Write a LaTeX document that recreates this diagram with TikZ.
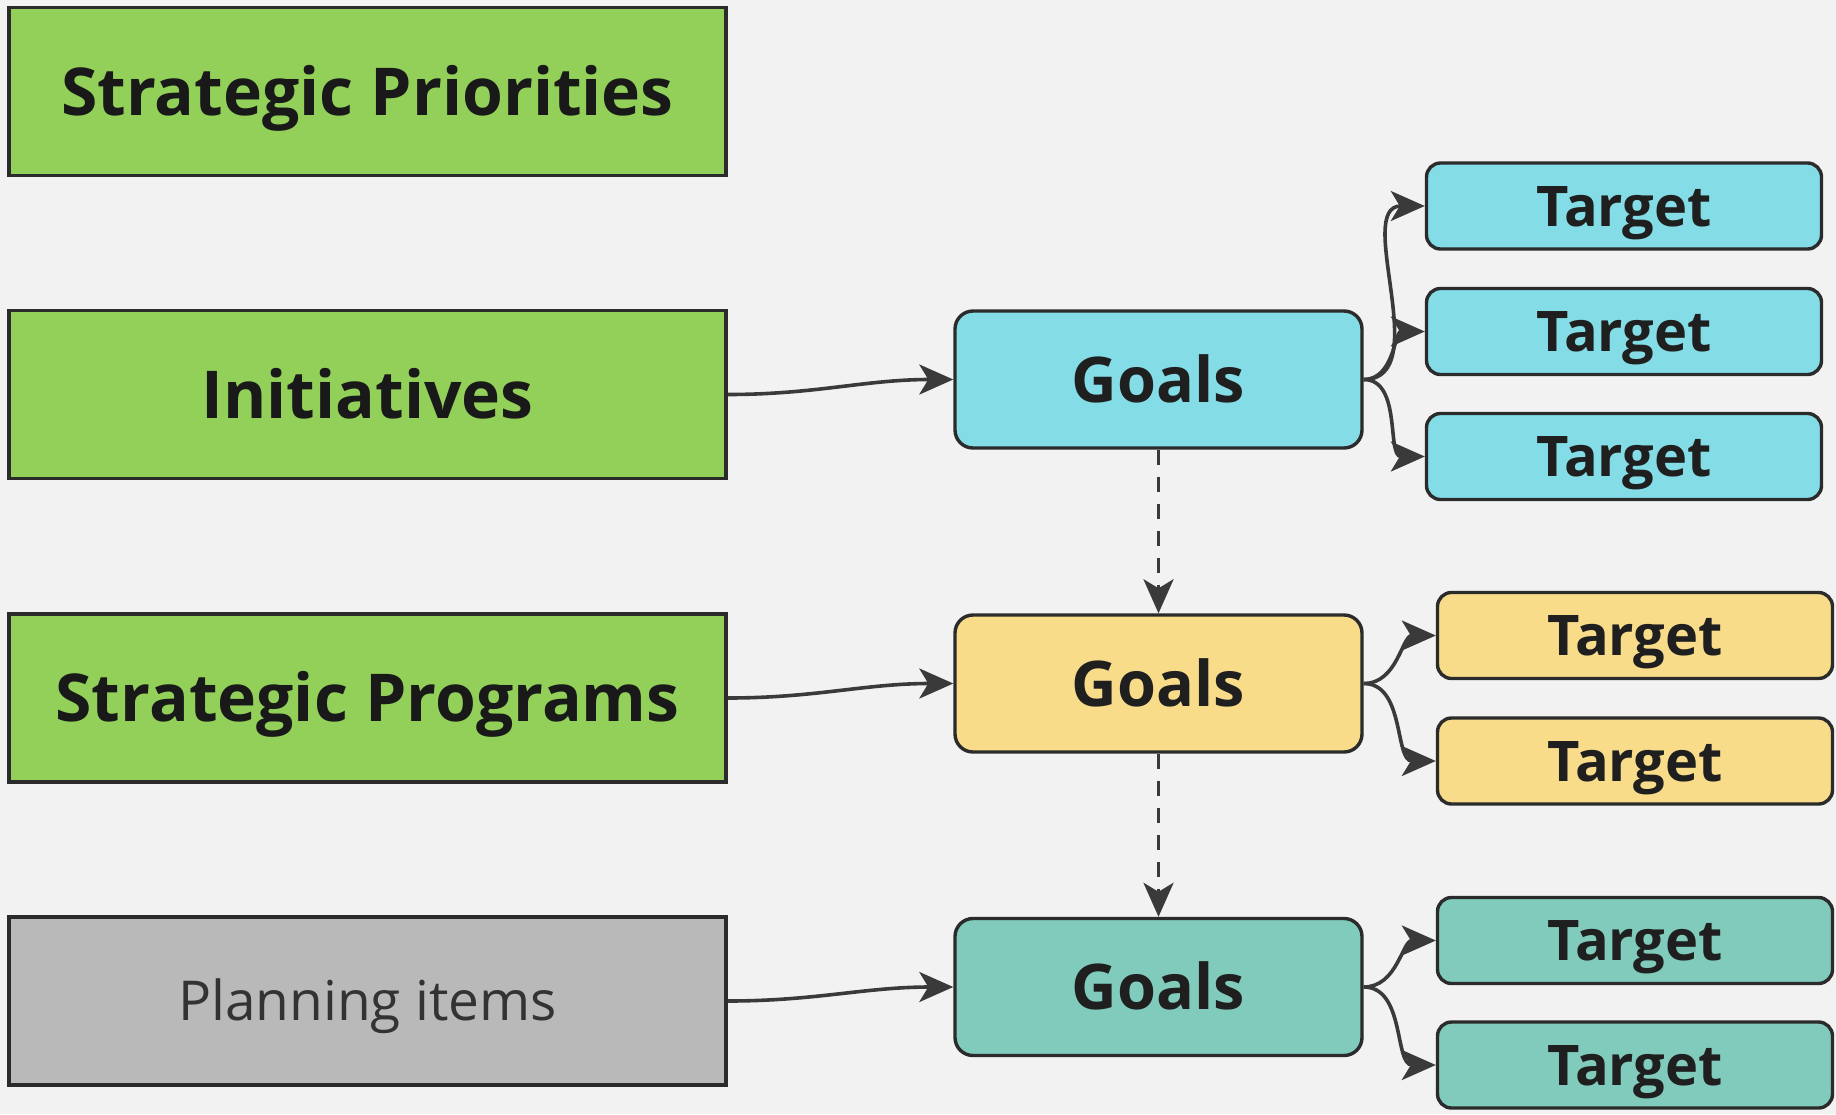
\documentclass[tikz,border=0pt]{standalone}
\usepackage{fontspec}
\setmainfont{Open Sans}
\usetikzlibrary{arrows.meta}
\definecolor{bg}{HTML}{F2F2F2}
\definecolor{edge}{HTML}{2B2B2B}
\definecolor{arr}{HTML}{3A3A3A}
\definecolor{grn}{HTML}{92D05A}
\definecolor{cyan1}{HTML}{84DDE6}
\definecolor{yel1}{HTML}{F8DC8A}
\definecolor{teal1}{HTML}{80CBBC}
\definecolor{gry}{HTML}{B9B9B9}
\tikzset{
  levelbox/.style={draw=edge, line width=3.4pt, fill=grn, minimum width=717pt, minimum height=168pt, inner sep=0pt, font=\fontsize{66}{70}\selectfont\bfseries, text=black!90, text height=47pt, text depth=0pt},
  goalbox/.style={draw=edge, line width=3.4pt, rounded corners=18pt, minimum width=407pt, minimum height=137pt, inner sep=0pt, font=\fontsize{63}{66}\selectfont\bfseries, text=black!88, text height=45pt, text depth=0pt},
  tgtbox/.style={draw=edge, line width=3.4pt, rounded corners=14pt, minimum width=395pt, minimum height=86pt, inner sep=0pt, font=\fontsize{56}{60}\selectfont\bfseries, text=black!88, text height=40pt, text depth=0pt},
  conn/.style={draw=arr, line width=3.6pt, -{Stealth[length=34pt,width=30pt,inset=9pt]}},
  dconn/.style={conn, dash pattern=on 15pt off 12pt}
}
\begin{document}
\begin{tikzpicture}[x=1pt,y=-1pt]
\fill[bg] (0,0) rectangle (1836,1114);
\useasboundingbox (0,0) rectangle (1836,1114);

\node[levelbox] (sp) at (367.5,91.5) {Strategic Priorities};
\node[levelbox] (ini) at (367.5,394.5) {Initiatives};
\node[levelbox] (prog) at (367.5,698) {Strategic Programs};
\node[levelbox, fill=gry, font=\fontsize{55}{60}\selectfont, text=black!80, text height=39pt] (plan) at (367.5,1001) {Planning items};

\node[goalbox, fill=cyan1] (g1) at (1158.5,379.5) {Goals};
\node[goalbox, fill=yel1] (g2) at (1158.5,683.5) {Goals};
\node[goalbox, fill=teal1] (g3) at (1158.5,987) {Goals};

\node[tgtbox, fill=cyan1] (t11) at (1624,206) {Target};
\node[tgtbox, fill=cyan1] (t12) at (1624,331.5) {Target};
\node[tgtbox, fill=cyan1] (t13) at (1624,456.5) {Target};
\node[tgtbox, fill=yel1] (t21) at (1635,635.5) {Target};
\node[tgtbox, fill=yel1] (t22) at (1635,761) {Target};
\node[tgtbox, fill=teal1] (t31) at (1635,940.5) {Target};
\node[tgtbox, fill=teal1] (t32) at (1635,1065) {Target};

\draw[conn] (ini.east) to[out=0,in=180] (g1.west);
\draw[conn] (prog.east) to[out=0,in=180] (g2.west);
\draw[conn] (plan.east) to[out=0,in=180] (g3.west);

\draw[conn] (g1.east) to[out=0,in=180] (t11.west);
\draw[conn] (g1.east) to[out=0,in=180] (t12.west);
\draw[conn] (g1.east) to[out=0,in=180] (t13.west);
\draw[conn] (g2.east) to[out=0,in=180] (t21.west);
\draw[conn] (g2.east) to[out=0,in=180] (t22.west);
\draw[conn] (g3.east) to[out=0,in=180] (t31.west);
\draw[conn] (g3.east) to[out=0,in=180] (t32.west);

\draw[dconn] (g1.south) -- (g2.north);
\draw[dconn] (g2.south) -- (g3.north);
\end{tikzpicture}
\end{document}
